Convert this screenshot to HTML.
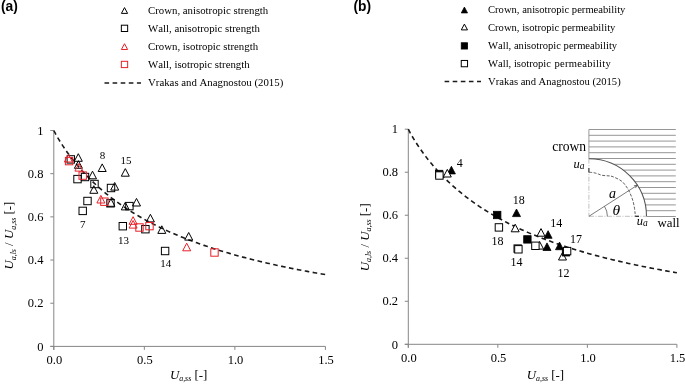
<!DOCTYPE html>
<html><head><meta charset="utf-8"><style>
html,body{margin:0;padding:0;background:#fff;}
svg{display:block;will-change:transform;}
text{font-family:"Liberation Serif",serif;fill:#000;font-kerning:none;}
.tk{font-size:12.5px;}
.lg{font-size:10.8px;}
.lgr{font-size:10.6px;}
.pl{font-size:11px;}
.pr{font-size:12px;}
.pn{font-family:"Liberation Sans",sans-serif;font-weight:bold;font-size:13.8px;}
.bt{fill:none;stroke:#000;stroke-width:1;}
.rt{fill:none;stroke:#e82028;stroke-width:1;}
.ft{fill:#000;stroke:#000;stroke-width:0.8;}
.ot{fill:#fff;stroke:#000;stroke-width:1;}
.cv{fill:none;stroke:#1a1a1a;stroke-width:1.6;stroke-dasharray:4.6 3.4;}
.it{font-style:italic;}
</style></head><body>
<svg width="685" height="384" viewBox="0 0 685 384">
<rect width="685" height="384" fill="#fff"/>
<text x="1.0" y="11.0" class="pn">(a)</text>
<text x="353.5" y="11.0" class="pn">(b)</text>
<path d="M124.50,7.60 L127.60,13.40 L121.40,13.40 Z" class="bt"/>
<rect x="121.35" y="25.20" width="6.30" height="6.30" class="bt"/>
<path d="M124.50,43.70 L127.60,49.50 L121.40,49.50 Z" class="rt"/>
<rect x="121.35" y="61.30" width="6.30" height="6.30" class="rt"/>
<line x1="104.5" y1="83" x2="141" y2="83" class="cv" style="stroke-dasharray:4.6 3.5;stroke-width:1.5"/>
<text x="148" y="13.90" class="lg">Crown, anisotropic strength</text>
<text x="148" y="31.90" class="lg">Wall, anisotropic strength</text>
<text x="148" y="49.90" class="lg">Crown, isotropic strength</text>
<text x="148" y="67.90" class="lg">Wall, isotropic strength</text>
<text x="148" y="85.90" class="lg">Vrakas and Anagnostou (2015)</text>
<path d="M464.40,7.10 L467.50,12.90 L461.30,12.90 Z" class="ft"/>
<path d="M464.40,24.10 L467.50,29.90 L461.30,29.90 Z" class="ot"/>
<rect x="461.25" y="42.75" width="6.30" height="6.30" class="ft"/>
<rect x="461.25" y="60.45" width="6.30" height="6.30" class="ot"/>
<line x1="444.6" y1="81.4" x2="481" y2="81.4" class="cv" style="stroke-dasharray:4.6 3.5;stroke-width:1.5"/>
<text x="488" y="12.90" class="lgr">Crown, anisotropic permeability</text>
<text x="488" y="30.90" class="lgr">Crown, isotropic permeability</text>
<text x="488" y="48.90" class="lgr">Wall, anisotropic permeability</text>
<text x="488" y="66.90" class="lgr">Wall, isotropic <tspan dx="0.8" style="letter-spacing:0.26px">permeability</tspan></text>
<text x="488" y="84.90" class="lgr">Vrakas and Anagnostou (2015)</text>
<line x1="53.80" y1="130.50" x2="53.80" y2="349.90" stroke="#868686" stroke-width="1"/>
<line x1="50.30" y1="346.40" x2="325.41" y2="346.40" stroke="#868686" stroke-width="1"/>
<line x1="50.30" y1="346.40" x2="53.80" y2="346.40" stroke="#868686" stroke-width="1"/>
<text x="43.40" y="350.60" text-anchor="end" class="tk">0</text>
<line x1="50.30" y1="303.22" x2="53.80" y2="303.22" stroke="#868686" stroke-width="1"/>
<text x="43.40" y="307.42" text-anchor="end" class="tk">0.2</text>
<line x1="50.30" y1="260.04" x2="53.80" y2="260.04" stroke="#868686" stroke-width="1"/>
<text x="43.40" y="264.24" text-anchor="end" class="tk">0.4</text>
<line x1="50.30" y1="216.86" x2="53.80" y2="216.86" stroke="#868686" stroke-width="1"/>
<text x="43.40" y="221.06" text-anchor="end" class="tk">0.6</text>
<line x1="50.30" y1="173.68" x2="53.80" y2="173.68" stroke="#868686" stroke-width="1"/>
<text x="43.40" y="177.88" text-anchor="end" class="tk">0.8</text>
<line x1="50.30" y1="130.50" x2="53.80" y2="130.50" stroke="#868686" stroke-width="1"/>
<text x="43.40" y="134.70" text-anchor="end" class="tk">1</text>
<line x1="53.80" y1="346.40" x2="53.80" y2="349.90" stroke="#868686" stroke-width="1"/>
<text x="54.40" y="364.20" text-anchor="middle" class="tk">0.0</text>
<line x1="144.33" y1="346.40" x2="144.33" y2="349.90" stroke="#868686" stroke-width="1"/>
<text x="144.93" y="364.20" text-anchor="middle" class="tk">0.5</text>
<line x1="234.87" y1="346.40" x2="234.87" y2="349.90" stroke="#868686" stroke-width="1"/>
<text x="235.47" y="364.20" text-anchor="middle" class="tk">1.0</text>
<line x1="325.41" y1="346.40" x2="325.41" y2="349.90" stroke="#868686" stroke-width="1"/>
<text x="326.01" y="364.20" text-anchor="middle" class="tk">1.5</text>
<path d="M53.80,130.50 L55.61,133.97 L57.42,137.16 L59.23,140.18 L61.04,143.08 L62.85,145.87 L64.66,148.57 L66.47,151.17 L68.29,153.70 L70.10,156.14 L71.91,158.52 L73.72,160.82 L75.53,163.07 L77.34,165.25 L79.15,167.38 L80.96,169.44 L82.77,171.46 L84.58,173.43 L86.39,175.35 L88.20,177.22 L90.01,179.05 L91.82,180.83 L93.64,182.58 L95.45,184.28 L97.26,185.95 L99.07,187.58 L100.88,189.17 L102.69,190.73 L104.50,192.26 L106.31,193.76 L108.12,195.22 L109.93,196.66 L111.74,198.07 L113.55,199.44 L115.36,200.80 L117.17,202.12 L118.99,203.42 L120.80,204.70 L122.61,205.95 L124.42,207.18 L126.23,208.38 L128.04,209.57 L129.85,210.73 L131.66,211.87 L133.47,212.99 L135.28,214.10 L137.09,215.18 L138.90,216.25 L140.71,217.29 L142.52,218.32 L144.33,219.33 L146.15,220.33 L147.96,221.31 L149.77,222.27 L151.58,223.22 L153.39,224.15 L155.20,225.07 L157.01,225.98 L158.82,226.87 L160.63,227.74 L162.44,228.60 L164.25,229.45 L166.06,230.29 L167.87,231.12 L169.68,231.93 L171.50,232.73 L173.31,233.52 L175.12,234.30 L176.93,235.06 L178.74,235.82 L180.55,236.57 L182.36,237.30 L184.17,238.02 L185.98,238.74 L187.79,239.44 L189.60,240.14 L191.41,240.83 L193.22,241.50 L195.03,242.17 L196.85,242.83 L198.66,243.48 L200.47,244.12 L202.28,244.76 L204.09,245.38 L205.90,246.00 L207.71,246.61 L209.52,247.21 L211.33,247.81 L213.14,248.39 L214.95,248.97 L216.76,249.55 L218.57,250.11 L220.38,250.67 L222.20,251.23 L224.01,251.77 L225.82,252.31 L227.63,252.85 L229.44,253.37 L231.25,253.89 L233.06,254.41 L234.87,254.92 L236.68,255.42 L238.49,255.92 L240.30,256.41 L242.11,256.90 L243.92,257.38 L245.73,257.85 L247.54,258.32 L249.36,258.79 L251.17,259.25 L252.98,259.70 L254.79,260.15 L256.60,260.60 L258.41,261.04 L260.22,261.48 L262.03,261.91 L263.84,262.34 L265.65,262.76 L267.46,263.18 L269.27,263.59 L271.08,264.00 L272.89,264.41 L274.71,264.81 L276.52,265.20 L278.33,265.60 L280.14,265.99 L281.95,266.37 L283.76,266.75 L285.57,267.13 L287.38,267.51 L289.19,267.88 L291.00,268.25 L292.81,268.61 L294.62,268.97 L296.43,269.33 L298.24,269.68 L300.06,270.03 L301.87,270.38 L303.68,270.72 L305.49,271.06 L307.30,271.40 L309.11,271.73 L310.92,272.06 L312.73,272.39 L314.54,272.72 L316.35,273.04 L318.16,273.36 L319.97,273.67 L321.78,273.99 L323.59,274.30 L325.41,274.61" class="cv" style="stroke-dasharray:4.6 3.45"/>
<path d="M78.30,153.70 L82.30,161.30 L74.30,161.30 Z" class="bt"/>
<path d="M78.40,160.70 L82.40,168.30 L74.40,168.30 Z" class="bt"/>
<path d="M102.20,163.90 L106.20,171.50 L98.20,171.50 Z" class="bt"/>
<path d="M125.30,168.60 L129.30,176.20 L121.30,176.20 Z" class="bt"/>
<path d="M92.50,171.20 L96.50,178.80 L88.50,178.80 Z" class="bt"/>
<path d="M93.80,185.70 L97.80,193.30 L89.80,193.30 Z" class="bt"/>
<path d="M114.70,182.50 L118.70,190.10 L110.70,190.10 Z" class="bt"/>
<path d="M110.90,198.70 L114.90,206.30 L106.90,206.30 Z" class="bt"/>
<path d="M125.30,202.30 L129.30,209.90 L121.30,209.90 Z" class="bt"/>
<path d="M136.50,198.40 L140.50,206.00 L132.50,206.00 Z" class="bt"/>
<path d="M150.40,214.30 L154.40,221.90 L146.40,221.90 Z" class="bt"/>
<path d="M161.80,225.80 L165.80,233.40 L157.80,233.40 Z" class="bt"/>
<path d="M188.70,232.50 L192.70,240.10 L184.70,240.10 Z" class="bt"/>
<rect x="67.10" y="155.70" width="7.40" height="7.40" class="bs bt"/>
<rect x="73.80" y="175.40" width="7.40" height="7.40" class="bs bt"/>
<rect x="81.30" y="173.30" width="7.40" height="7.40" class="bs bt"/>
<rect x="90.80" y="180.30" width="7.40" height="7.40" class="bs bt"/>
<rect x="83.80" y="197.30" width="7.40" height="7.40" class="bs bt"/>
<rect x="79.00" y="207.20" width="7.40" height="7.40" class="bs bt"/>
<rect x="107.30" y="184.30" width="7.40" height="7.40" class="bs bt"/>
<rect x="106.80" y="199.60" width="7.40" height="7.40" class="bs bt"/>
<rect x="125.70" y="202.40" width="7.40" height="7.40" class="bs bt"/>
<rect x="119.10" y="222.50" width="7.40" height="7.40" class="bs bt"/>
<rect x="141.70" y="225.50" width="7.40" height="7.40" class="bs bt"/>
<rect x="161.40" y="247.30" width="7.40" height="7.40" class="bs bt"/>
<path d="M68.40,154.40 L72.40,162.00 L64.40,162.00 Z" class="rt"/>
<path d="M78.90,163.50 L82.90,171.10 L74.90,171.10 Z" class="rt"/>
<path d="M100.90,195.40 L104.90,203.00 L96.90,203.00 Z" class="rt"/>
<path d="M133.10,216.70 L137.10,224.30 L129.10,224.30 Z" class="rt"/>
<path d="M133.10,220.50 L137.10,228.10 L129.10,228.10 Z" class="rt"/>
<path d="M186.70,243.20 L190.70,250.80 L182.70,250.80 Z" class="rt"/>
<rect x="65.40" y="157.40" width="7.40" height="7.40" class="rt"/>
<rect x="79.00" y="171.90" width="7.40" height="7.40" class="rt"/>
<rect x="100.70" y="198.00" width="7.40" height="7.40" class="rt"/>
<rect x="135.80" y="223.80" width="7.40" height="7.40" class="rt"/>
<rect x="145.80" y="222.40" width="7.40" height="7.40" class="rt"/>
<rect x="210.80" y="248.80" width="7.40" height="7.40" class="rt"/>
<text x="99.80" y="159.00" class="pl">8</text>
<text x="120.60" y="163.80" class="pl">15</text>
<text x="80.00" y="227.50" class="pl">7</text>
<text x="118.00" y="243.50" class="pl">13</text>
<text x="160.30" y="266.80" class="pl">14</text>
<text x="169.9" y="378.8" style="font-size:12.9px"><tspan class="it">U</tspan><tspan class="it" style="font-size:7.9px" dy="2.6">a,ss</tspan><tspan dy="-2.6"> [-]</tspan></text>
<text transform="translate(13.4,269.6) rotate(-90)" style="font-size:12.9px"><tspan class="it">U</tspan><tspan class="it" style="font-size:7.9px" dy="2.6">a,ls</tspan><tspan dy="-2.6"> / </tspan><tspan class="it">U</tspan><tspan class="it" style="font-size:7.9px" dy="2.6">a,ss</tspan><tspan dy="-2.6"> [-]</tspan></text>
<line x1="408.30" y1="129.20" x2="408.30" y2="347.80" stroke="#868686" stroke-width="1"/>
<line x1="404.80" y1="344.30" x2="676.90" y2="344.30" stroke="#868686" stroke-width="1"/>
<line x1="404.80" y1="344.30" x2="408.30" y2="344.30" stroke="#868686" stroke-width="1"/>
<text x="398.00" y="348.50" text-anchor="end" class="tk">0</text>
<line x1="404.80" y1="301.28" x2="408.30" y2="301.28" stroke="#868686" stroke-width="1"/>
<text x="398.00" y="305.48" text-anchor="end" class="tk">0.2</text>
<line x1="404.80" y1="258.26" x2="408.30" y2="258.26" stroke="#868686" stroke-width="1"/>
<text x="398.00" y="262.46" text-anchor="end" class="tk">0.4</text>
<line x1="404.80" y1="215.24" x2="408.30" y2="215.24" stroke="#868686" stroke-width="1"/>
<text x="398.00" y="219.44" text-anchor="end" class="tk">0.6</text>
<line x1="404.80" y1="172.22" x2="408.30" y2="172.22" stroke="#868686" stroke-width="1"/>
<text x="398.00" y="176.42" text-anchor="end" class="tk">0.8</text>
<line x1="404.80" y1="129.20" x2="408.30" y2="129.20" stroke="#868686" stroke-width="1"/>
<text x="398.00" y="133.40" text-anchor="end" class="tk">1</text>
<line x1="408.30" y1="344.30" x2="408.30" y2="347.80" stroke="#868686" stroke-width="1"/>
<text x="408.90" y="362.10" text-anchor="middle" class="tk">0.0</text>
<line x1="497.84" y1="344.30" x2="497.84" y2="347.80" stroke="#868686" stroke-width="1"/>
<text x="498.44" y="362.10" text-anchor="middle" class="tk">0.5</text>
<line x1="587.37" y1="344.30" x2="587.37" y2="347.80" stroke="#868686" stroke-width="1"/>
<text x="587.97" y="362.10" text-anchor="middle" class="tk">1.0</text>
<line x1="676.90" y1="344.30" x2="676.90" y2="347.80" stroke="#868686" stroke-width="1"/>
<text x="677.50" y="362.10" text-anchor="middle" class="tk">1.5</text>
<path d="M408.30,129.20 L410.09,132.66 L411.88,135.83 L413.67,138.84 L415.46,141.73 L417.25,144.51 L419.04,147.20 L420.83,149.80 L422.63,152.31 L424.42,154.75 L426.21,157.11 L428.00,159.41 L429.79,161.65 L431.58,163.82 L433.37,165.94 L435.16,168.00 L436.95,170.01 L438.74,171.97 L440.53,173.88 L442.32,175.75 L444.11,177.57 L445.90,179.35 L447.70,181.08 L449.49,182.78 L451.28,184.44 L453.07,186.07 L454.86,187.66 L456.65,189.21 L458.44,190.73 L460.23,192.22 L462.02,193.68 L463.81,195.11 L465.60,196.52 L467.39,197.89 L469.18,199.24 L470.97,200.56 L472.77,201.85 L474.56,203.12 L476.35,204.37 L478.14,205.59 L479.93,206.80 L481.72,207.97 L483.51,209.13 L485.30,210.27 L487.09,211.39 L488.88,212.49 L490.67,213.57 L492.46,214.63 L494.25,215.67 L496.04,216.70 L497.84,217.70 L499.63,218.70 L501.42,219.67 L503.21,220.63 L505.00,221.58 L506.79,222.51 L508.58,223.42 L510.37,224.32 L512.16,225.21 L513.95,226.08 L515.74,226.94 L517.53,227.79 L519.32,228.62 L521.11,229.44 L522.90,230.25 L524.70,231.05 L526.49,231.84 L528.28,232.61 L530.07,233.38 L531.86,234.13 L533.65,234.87 L535.44,235.60 L537.23,236.33 L539.02,237.04 L540.81,237.74 L542.60,238.43 L544.39,239.12 L546.18,239.79 L547.97,240.46 L549.77,241.11 L551.56,241.76 L553.35,242.40 L555.14,243.03 L556.93,243.66 L558.72,244.27 L560.51,244.88 L562.30,245.48 L564.09,246.07 L565.88,246.66 L567.67,247.24 L569.46,247.81 L571.25,248.37 L573.04,248.93 L574.84,249.48 L576.63,250.02 L578.42,250.56 L580.21,251.09 L582.00,251.62 L583.79,252.14 L585.58,252.65 L587.37,253.16 L589.16,253.66 L590.95,254.15 L592.74,254.64 L594.53,255.13 L596.32,255.61 L598.11,256.08 L599.90,256.55 L601.70,257.01 L603.49,257.47 L605.28,257.93 L607.07,258.37 L608.86,258.82 L610.65,259.26 L612.44,259.69 L614.23,260.12 L616.02,260.55 L617.81,260.97 L619.60,261.38 L621.39,261.80 L623.18,262.21 L624.97,262.61 L626.77,263.01 L628.56,263.41 L630.35,263.80 L632.14,264.19 L633.93,264.57 L635.72,264.95 L637.51,265.33 L639.30,265.70 L641.09,266.07 L642.88,266.43 L644.67,266.80 L646.46,267.16 L648.25,267.51 L650.04,267.86 L651.84,268.21 L653.63,268.56 L655.42,268.90 L657.21,269.24 L659.00,269.57 L660.79,269.91 L662.58,270.24 L664.37,270.56 L666.16,270.89 L667.95,271.21 L669.74,271.53 L671.53,271.84 L673.32,272.15 L675.11,272.46 L676.90,272.77" class="cv"/>
<line x1="588.90" y1="129.50" x2="675.80" y2="129.50" stroke="#8a8a8a" stroke-width="0.9"/>
<line x1="588.90" y1="135.30" x2="675.80" y2="135.30" stroke="#8a8a8a" stroke-width="0.9"/>
<line x1="588.90" y1="141.10" x2="675.80" y2="141.10" stroke="#8a8a8a" stroke-width="0.9"/>
<line x1="588.90" y1="146.90" x2="675.80" y2="146.90" stroke="#8a8a8a" stroke-width="0.9"/>
<line x1="588.90" y1="152.70" x2="675.80" y2="152.70" stroke="#8a8a8a" stroke-width="0.9"/>
<line x1="588.90" y1="158.50" x2="675.80" y2="158.50" stroke="#8a8a8a" stroke-width="0.9"/>
<line x1="613.67" y1="164.30" x2="675.80" y2="164.30" stroke="#8a8a8a" stroke-width="0.9"/>
<line x1="623.30" y1="170.10" x2="675.80" y2="170.10" stroke="#8a8a8a" stroke-width="0.9"/>
<line x1="629.96" y1="175.90" x2="675.80" y2="175.90" stroke="#8a8a8a" stroke-width="0.9"/>
<line x1="634.95" y1="181.70" x2="675.80" y2="181.70" stroke="#8a8a8a" stroke-width="0.9"/>
<line x1="638.78" y1="187.50" x2="675.80" y2="187.50" stroke="#8a8a8a" stroke-width="0.9"/>
<line x1="641.71" y1="193.30" x2="675.80" y2="193.30" stroke="#8a8a8a" stroke-width="0.9"/>
<line x1="643.87" y1="199.10" x2="675.80" y2="199.10" stroke="#8a8a8a" stroke-width="0.9"/>
<line x1="645.36" y1="204.90" x2="675.80" y2="204.90" stroke="#8a8a8a" stroke-width="0.9"/>
<line x1="646.23" y1="210.70" x2="675.80" y2="210.70" stroke="#8a8a8a" stroke-width="0.9"/>
<line x1="646.50" y1="216.50" x2="675.80" y2="216.50" stroke="#8a8a8a" stroke-width="0.9"/>
<line x1="588.90" y1="129.50" x2="588.90" y2="158.70" stroke="#9a9a9a" stroke-width="1"/>
<line x1="588.90" y1="158.70" x2="588.90" y2="216.30" stroke="#b0b0b0" stroke-width="0.8" stroke-dasharray="5 1.5 1 1.5"/>
<line x1="588.90" y1="216.30" x2="646.50" y2="216.30" stroke="#b0b0b0" stroke-width="0.8" stroke-dasharray="5 1.5 1 1.5"/>
<path d="M588.90,158.70 A57.60,57.60 0 0 1 646.50,216.30" fill="none" stroke="#555" stroke-width="1.1"/>
<path d="M589.10,172.30 C589.72,172.34 591.75,172.42 592.80,172.55 C593.85,172.68 594.45,172.84 595.40,173.10 C596.35,173.36 597.47,173.75 598.50,174.10 C599.53,174.45 600.38,174.93 601.60,175.20 C602.82,175.47 604.50,175.58 605.80,175.70 C607.10,175.82 608.37,175.78 609.40,175.90 C610.43,176.02 610.73,175.97 612.00,176.40 C613.27,176.83 615.33,177.67 617.00,178.50 C618.67,179.33 620.54,180.19 622.00,181.40 C623.46,182.61 624.60,184.19 625.75,185.75 C626.90,187.31 627.96,188.97 628.90,190.75 C629.84,192.53 630.67,194.53 631.40,196.40 C632.12,198.28 632.73,200.03 633.25,202.00 C633.77,203.97 634.19,206.38 634.50,208.25 C634.81,210.12 634.95,211.91 635.10,213.25 C635.25,214.59 635.35,215.79 635.40,216.30" fill="none" stroke="#444" stroke-width="0.85" stroke-dasharray="3 1.5"/>
<line x1="588.9" y1="168" x2="588.9" y2="172.5" stroke="#222" stroke-width="1"/>
<line x1="635.3" y1="216.3" x2="639" y2="216.3" stroke="#222" stroke-width="1.2"/>
<line x1="588.90" y1="216.30" x2="637.37" y2="185.18" stroke="#444" stroke-width="0.7"/>
<path d="M633.92,185.78 L637.37,185.18 L635.39,188.07" fill="none" stroke="#444" stroke-width="0.7"/>
<path d="M607.40,216.30 A18.50,18.50 0 0 0 604.47,206.31" fill="none" stroke="#444" stroke-width="0.7"/>
<text x="552.2" y="151.2" style="font-size:13.6px">crown</text>
<text x="573.6" y="167.7" class="it" style="font-size:12.5px">u<tspan style="font-size:9.5px" dy="1.4">a</tspan></text>
<text x="609" y="197.8" class="it" style="font-size:14px">a</text>
<text x="612.6" y="214.6" class="it" style="font-size:15.5px">θ</text>
<text x="636.8" y="224.6" class="it" style="font-size:12.5px">u<tspan style="font-size:9.5px" dy="1.4">a</tspan></text>
<text x="657.5" y="227.2" style="font-size:12.8px">wall</text>
<path d="M451.40,166.30 L455.40,173.90 L447.40,173.90 Z" class="ft"/>
<path d="M516.50,209.00 L520.50,216.60 L512.50,216.60 Z" class="ft"/>
<path d="M548.10,230.70 L552.10,238.30 L544.10,238.30 Z" class="ft"/>
<path d="M547.00,242.90 L551.00,250.50 L543.00,250.50 Z" class="ft"/>
<path d="M559.50,242.10 L563.50,249.70 L555.50,249.70 Z" class="ft"/>
<path d="M447.30,169.40 L451.30,177.00 L443.30,177.00 Z" class="ot"/>
<path d="M515.20,224.20 L519.20,231.80 L511.20,231.80 Z" class="ot"/>
<path d="M541.00,228.60 L545.00,236.20 L537.00,236.20 Z" class="ot"/>
<path d="M539.60,241.50 L543.60,249.10 L535.60,249.10 Z" class="ot"/>
<path d="M562.50,252.40 L566.50,260.00 L558.50,260.00 Z" class="ot"/>
<rect x="435.40" y="170.30" width="7.40" height="7.40" class="ft"/>
<rect x="493.50" y="211.30" width="7.40" height="7.40" class="ft"/>
<rect x="523.70" y="235.70" width="7.40" height="7.40" class="ft"/>
<rect x="562.30" y="248.60" width="7.40" height="7.40" class="ft"/>
<rect x="435.70" y="171.80" width="7.40" height="7.40" class="ot"/>
<rect x="495.20" y="223.70" width="7.40" height="7.40" class="ot"/>
<rect x="514.00" y="244.90" width="7.40" height="7.40" class="ot"/>
<rect x="514.70" y="245.60" width="7.40" height="7.40" class="ot"/>
<rect x="531.70" y="242.10" width="7.40" height="7.40" class="ot"/>
<rect x="563.40" y="247.40" width="7.40" height="7.40" class="ot"/>
<text x="456.70" y="166.80" class="pr">4</text>
<text x="512.80" y="203.70" class="pr">18</text>
<text x="491.60" y="244.80" class="pr">18</text>
<text x="550.30" y="226.70" class="pr">14</text>
<text x="510.50" y="265.60" class="pr">14</text>
<text x="570.00" y="243.20" class="pr">17</text>
<text x="557.60" y="277.30" class="pr">12</text>
<text x="526.7" y="378.8" style="font-size:12.9px"><tspan class="it">U</tspan><tspan class="it" style="font-size:7.9px" dy="2.6">a,ss</tspan><tspan dy="-2.6"> [-]</tspan></text>
<text transform="translate(368.8,271.3) rotate(-90)" style="font-size:12.9px"><tspan class="it">U</tspan><tspan class="it" style="font-size:7.9px" dy="2.6">a,ls</tspan><tspan dy="-2.6"> / </tspan><tspan class="it">U</tspan><tspan class="it" style="font-size:7.9px" dy="2.6">a,ss</tspan><tspan dy="-2.6"> [-]</tspan></text>
</svg></body></html>
